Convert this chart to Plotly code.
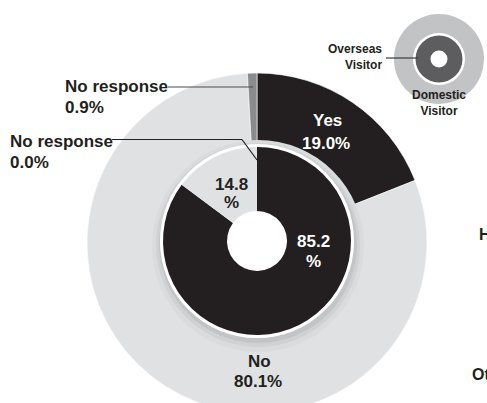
import plotly.graph_objects as go

# ---- data ----
outer_labels = ["Yes", "No", "No response"]
outer_values = [19.0, 80.1, 0.9]
inner_labels = ["Yes", "No", "No response"]
inner_values = [85.2, 14.8, 0.0]
icon_labels = ["Overseas<br>Visitor", "Domestic<br>Visitor"]

BLACK = "#231f20"
LIGHT = "#e0e1e3"
MID = "#8a8b8d"
FONT = "Liberation Sans"

W, H = 487, 420


def dom(cx, cy, r):
    return dict(x=[(cx - r) / W, (cx + r) / W], y=[(H - cy - r) / H, (H - cy + r) / H])


def px(x, y):
    return x / W, (H - y) / H


def solid_disk(cx, cy, r, color, hole=0.0):
    return go.Pie(values=[1], labels=["_"], marker=dict(colors=[color], line=dict(width=0)),
                  domain=dom(cx, cy, r), hole=hole, textinfo="none", hoverinfo="skip",
                  showlegend=False, sort=False)


fig = go.Figure()

# outer ring
fig.add_trace(go.Pie(values=outer_values, labels=outer_labels, sort=False, direction="clockwise",
                     rotation=0, hole=0.5, textinfo="none", hoverinfo="label+value",
                     marker=dict(colors=[BLACK, LIGHT, MID], line=dict(color="white", width=0.6)),
                     domain=dom(257, 243, 170), showlegend=False))

# soft shadow under the inner ring
fig.add_trace(solid_disk(258, 246, 106, "#dadbdd"))
fig.add_trace(solid_disk(258, 245, 102, "#d0d1d3"))
fig.add_trace(solid_disk(258, 244, 99, "#c3c4c6"))
# white border
fig.add_trace(solid_disk(257, 241, 97, "white"))

# inner ring
fig.add_trace(go.Pie(values=inner_values, labels=inner_labels, sort=False, direction="clockwise",
                     rotation=0, hole=30 / 94, textinfo="none", hoverinfo="label+value",
                     marker=dict(colors=[BLACK, LIGHT, MID], line=dict(width=0)),
                     domain=dom(257, 241, 94), showlegend=False))

# small legend icon
fig.add_trace(solid_disk(439, 59, 45, "#c2c3c5"))
fig.add_trace(solid_disk(439, 59, 26, "white"))
fig.add_trace(solid_disk(439, 59, 23.5, "#5d5d5f", hole=8.5 / 23.5))

anns = []


def txt(s, x, y, size=17, color=BLACK, xanchor="center", align="center"):
    ax, ay = px(x, y)
    anns.append(dict(text=s, x=ax, y=ay, xref="paper", yref="paper", showarrow=False,
                     xanchor=xanchor, yanchor="middle", align=align,
                     font=dict(family=FONT, size=size, color=color, weight=700)))


# outer ring labels
txt(outer_labels[0], 327, 121, color="white")
txt(f"{outer_values[0]:.1f}%", 326, 143, color="white")
txt(outer_labels[1], 259, 361)
txt(f"{outer_values[1]:.1f}%", 258, 381.5)
txt(outer_labels[2], 63, 86.5, xanchor="left")
txt(f"{outer_values[2]:.1f}%", 63, 107, xanchor="left")

# inner ring labels
txt(f"{inner_values[1]:.1f}", 231, 184)
txt("%", 231, 203)
txt(f"{inner_values[0]:.1f}", 313, 241.5, color="white")
txt("%", 313, 261.5, color="white")
txt(inner_labels[2], 8, 141.5, xanchor="left")
txt(f"{inner_values[2]:.1f}%", 8, 162.5, xanchor="left")

# icon labels
txt(icon_labels[0], 384, 57.5, size=12, xanchor="right", align="right")
txt(icon_labels[1], 439, 102.5, size=12)

# cut-off labels of neighbouring chart
txt("Ho", 477, 234, size=16, xanchor="left")
txt("Ot", 470, 374, size=16, xanchor="left")

shapes = []


def seg(x0, y0, x1, y1, color, width=1.2):
    a0, b0 = px(x0, y0)
    a1, b1 = px(x1, y1)
    shapes.append(dict(type="line", xref="paper", yref="paper", x0=a0, y0=b0, x1=a1, y1=b1,
                       line=dict(color=color, width=width)))


seg(168, 87, 253, 87, "#4d4d4f")
seg(112, 139.5, 242, 139.5, BLACK)
seg(242, 139.5, 257, 160, BLACK)
seg(386, 58, 418, 58, "#3a3a3c")

fig.update_layout(width=W, height=H, margin=dict(l=0, r=0, t=0, b=0),
                  paper_bgcolor="white", plot_bgcolor="white",
                  annotations=anns, shapes=shapes, showlegend=False)

fig.write_html("out.html", config={"displayModeBar": False},
               post_script="document.documentElement.style.overflow='hidden';document.body.style.overflow='hidden';")
